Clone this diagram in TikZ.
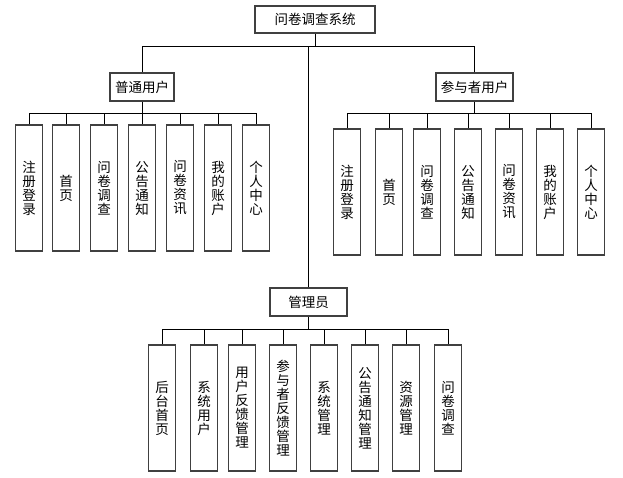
\documentclass[tikz,border=0pt]{standalone}
\usepackage{fontspec}
\setmainfont{Noto Sans CJK SC}
\begin{document}
\begin{tikzpicture}[x=1pt,y=-1pt,
  box/.style={draw=black!75,line width=1.1pt,fill=white,inner sep=0pt,font=\fontsize{13.5}{14}\selectfont},
  hbox/.style={box,minimum height=28pt},
  vbox/.style={box,minimum width=26.5pt,minimum height=126pt,align=center},
  link/.style={draw=black,line width=0.9pt}]
\useasboundingbox (0,0) rectangle (623,477);
% top level
\node[hbox,minimum width=120pt,minimum height=27pt] (root) at (315,19.5) {问卷调查系统};
\node[hbox,minimum width=64pt] (u1) at (142,87) {普通用户};
\node[hbox,minimum width=77pt] (u2) at (474.5,87) {参与者用户};
\node[hbox,minimum width=77pt] (adm) at (308.5,302) {管理员};
\coordinate (b0) at (315,46);
\coordinate (b1) at (142,113);
\coordinate (b2) at (474.5,113);
\coordinate (b3) at (308.5,329);
% left children
\node[vbox] (a1) at (29,188) {注\\册\\登\\录};
\node[vbox] (a2) at (66,188) {首\\页};
\node[vbox] (a3) at (104,188) {问\\卷\\调\\查};
\node[vbox] (a4) at (142,188) {公\\告\\通\\知};
\node[vbox] (a5) at (180,188) {问\\卷\\资\\讯};
\node[vbox] (a6) at (218,188) {我\\的\\账\\户};
\node[vbox] (a7) at (256,188) {个\\人\\中\\心};
% right children
\node[vbox] (p1) at (347,192) {注\\册\\登\\录};
\node[vbox] (p2) at (389,192) {首\\页};
\node[vbox] (p3) at (427,192) {问\\卷\\调\\查};
\node[vbox] (p4) at (468,192) {公\\告\\通\\知};
\node[vbox] (p5) at (509,192) {问\\卷\\资\\讯};
\node[vbox] (p6) at (550,192) {我\\的\\账\\户};
\node[vbox] (p7) at (591,192) {个\\人\\中\\心};
% admin children
\node[vbox] (m1) at (162,408) {后\\台\\首\\页};
\node[vbox] (m2) at (204,408) {系\\统\\用\\户};
\node[vbox] (m3) at (242,408) {用\\户\\反\\馈\\管\\理};
\node[vbox] (m4) at (283,408) {参\\与\\者\\反\\馈\\管\\理};
\node[vbox] (m5) at (324,408) {系\\统\\管\\理};
\node[vbox] (m6) at (365,408) {公\\告\\通\\知\\管\\理};
\node[vbox] (m7) at (406,408) {资\\源\\管\\理};
\node[vbox] (m8) at (448,408) {问\\卷\\调\\查};
% connectors
\draw[link] (root.south) -- (b0);
\draw[link] (u1.north) |- (b0);
\draw[link] (u2.north) |- (b0);
\draw[link] (adm.north) -- (adm.north |- b0);
\draw[link] (u1.south) -- (b1);
\foreach \n in {a1,a2,a3,a4,a5,a6,a7} \draw[link] (\n.north) |- (b1);
\draw[link] (u2.south) -- (b2);
\foreach \n in {p1,p2,p3,p4,p5,p6,p7} \draw[link] (\n.north) |- (b2);
\draw[link] (adm.south) -- (b3);
\foreach \n in {m1,m2,m3,m4,m5,m6,m7,m8} \draw[link] (\n.north) |- (b3);
\end{tikzpicture}
\end{document}
